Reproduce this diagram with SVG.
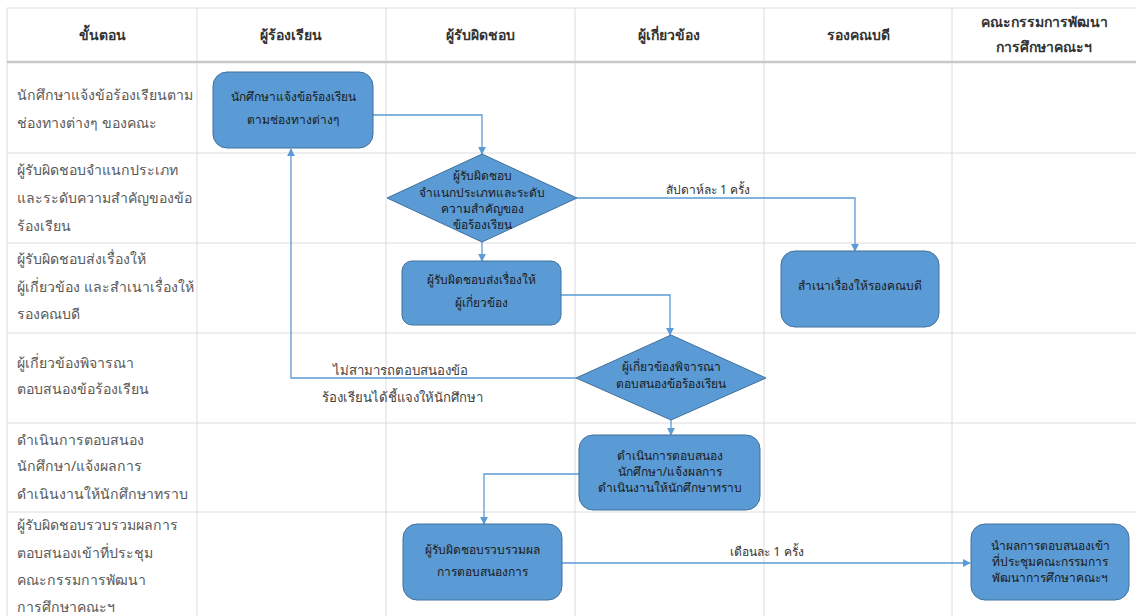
<svg xmlns="http://www.w3.org/2000/svg" width="1136" height="616" viewBox="0 0 1136 616">
<defs>
<marker id="arr" viewBox="0 0 10 10" refX="9" refY="5" markerWidth="8" markerHeight="8" markerUnits="userSpaceOnUse" orient="auto"><path d="M0,0 L10,5 L0,10 z" fill="#5B9BD5"/></marker>
<style>
.grid{stroke:#dcdcdc;stroke-width:1;fill:none}
.hdr{font-family:"Noto Sans","DejaVu Sans",sans-serif;font-size:14px;font-weight:bold;fill:#333;text-anchor:middle}
.step{font-family:"Noto Sans","DejaVu Sans",sans-serif;font-size:14.1px;fill:#595959}
.box{fill:#5B9BD5;stroke:#41719C;stroke-width:1}
.nt{font-family:"Noto Sans","DejaVu Sans",sans-serif;font-size:12px;fill:#1a1a1a;text-anchor:middle}
.con{stroke:#5B9BD5;stroke-width:1.3;fill:none}
.lbl{font-family:"Noto Sans","DejaVu Sans",sans-serif;font-size:12px;fill:#333;text-anchor:middle}
.lbl2{font-family:"Noto Sans","DejaVu Sans",sans-serif;font-size:13.2px;fill:#444;text-anchor:middle}
</style>
</defs>
<rect width="1136" height="616" fill="#fff"/>
<g id="grid">
<path class="grid" d="M7,8 H1136 M7,153 H1136 M7,243 H1136 M7,333 H1136 M7,423 H1136 M7,512 H1136 M7,8 V616 M197,8 V616 M386,8 V616 M575,8 V616 M764,8 V616 M952,8 V616"/>
<path d="M7,62 H1136" stroke="#c8c8c8" stroke-width="2.5" fill="none"/>
</g>
<g id="header">
<text class="hdr" x="102" y="40">ขั้นตอน</text>
<text class="hdr" x="291" y="40">ผู้ร้องเรียน</text>
<text class="hdr" x="480" y="40">ผู้รับผิดชอบ</text>
<text class="hdr" x="669" y="40">ผู้เกี่ยวข้อง</text>
<text class="hdr" x="858" y="40">รองคณบดี</text>
<text class="hdr" x="1044" y="27">คณะกรรมการพัฒนา</text>
<text class="hdr" x="1044" y="52">การศึกษาคณะฯ</text>
</g>
<g id="steps">
<text class="step" x="17" y="100">นักศึกษาแจ้งข้อร้องเรียนตาม</text>
<text class="step" x="17" y="128">ช่องทางต่างๆ ของคณะ</text>
<text class="step" x="17" y="175">ผู้รับผิดชอบจำแนกประเภท</text>
<text class="step" x="17" y="203">และระดับความสำคัญของข้อ</text>
<text class="step" x="17" y="231">ร้องเรียน</text>
<text class="step" x="17" y="264">ผู้รับผิดชอบส่งเรื่องให้</text>
<text class="step" x="17" y="292">ผู้เกี่ยวข้อง และสำเนาเรื่องให้</text>
<text class="step" x="17" y="319">รองคณบดี</text>
<text class="step" x="17" y="368">ผู้เกี่ยวข้องพิจารณา</text>
<text class="step" x="17" y="394">ตอบสนองข้อร้องเรียน</text>
<text class="step" x="17" y="445">ดำเนินการตอบสนอง</text>
<text class="step" x="17" y="471">นักศึกษา/แจ้งผลการ</text>
<text class="step" x="17" y="499">ดำเนินงานให้นักศึกษาทราบ</text>
<text class="step" x="17" y="530">ผู้รับผิดชอบรวบรวมผลการ</text>
<text class="step" x="17" y="558">ตอบสนองเข้าที่ประชุม</text>
<text class="step" x="17" y="585">คณะกรรมการพัฒนา</text>
<text class="step" x="17" y="612">การศึกษาคณะฯ</text>
</g>
<g id="connectors">
<path class="con" d="M373,115 H482 V154" marker-end="url(#arr)"/>
<path class="con" d="M482,242 V261" marker-end="url(#arr)"/>
<path class="con" d="M577,198 H855 V251" marker-end="url(#arr)"/>
<path class="con" d="M561,295 H670 V335" marker-end="url(#arr)"/>
<path class="con" d="M576,378 H291 V149" marker-end="url(#arr)"/>
<path class="con" d="M671,420 V435" marker-end="url(#arr)"/>
<path class="con" d="M579,474 H484 V524" marker-end="url(#arr)"/>
<path class="con" d="M562,563 H970" marker-end="url(#arr)"/>
<text class="lbl" x="708" y="194">สัปดาห์ละ 1 ครั้ง</text>
<text class="lbl2" x="400" y="375">ไม่สามารถตอบสนองข้อ</text>
<text class="lbl2" x="402" y="402">ร้องเรียนได้ชี้แจงให้นักศึกษา</text>
<text class="lbl" x="767" y="556">เดือนละ 1 ครั้ง</text>
</g>
<g id="n1">
<rect class="box" x="213" y="72" width="160" height="76" rx="14"/>
<text class="nt" x="293" y="101">นักศึกษาแจ้งข้อร้องเรียน</text>
<text class="nt" x="293" y="124">ตามช่องทางต่างๆ</text>
</g>
<g id="n2">
<polygon class="box" points="482,154 577,198 482,242 387,198"/>
<text class="nt" x="482" y="180">ผู้รับผิดชอบ</text>
<text class="nt" x="482" y="197">จำแนกประเภทและระดับ</text>
<text class="nt" x="482" y="213">ความสำคัญของ</text>
<text class="nt" x="482" y="229">ข้อร้องเรียน</text>
</g>
<g id="n3">
<rect class="box" x="402" y="261" width="159" height="64" rx="10"/>
<text class="nt" x="481" y="284">ผู้รับผิดชอบส่งเรื่องให้</text>
<text class="nt" x="481" y="307">ผู้เกี่ยวข้อง</text>
</g>
<g id="n4">
<rect class="box" x="781" y="251" width="158" height="76" rx="14"/>
<text class="nt" x="860" y="290">สำเนาเรื่องให้รองคณบดี</text>
</g>
<g id="n5">
<polygon class="box" points="671,335 766,378 671,420 576,378"/>
<text class="nt" x="671" y="371">ผู้เกี่ยวข้องพิจารณา</text>
<text class="nt" x="671" y="388">ตอบสนองข้อร้องเรียน</text>
</g>
<g id="n6">
<rect class="box" x="579" y="435" width="181" height="75" rx="14"/>
<text class="nt" x="670" y="460">ดำเนินการตอบสนอง</text>
<text class="nt" x="670" y="476">นักศึกษา/แจ้งผลการ</text>
<text class="nt" x="670" y="492">ดำเนินงานให้นักศึกษาทราบ</text>
</g>
<g id="n7">
<rect class="box" x="403" y="524" width="159" height="76" rx="14"/>
<text class="nt" x="482" y="554">ผู้รับผิดชอบรวบรวมผล</text>
<text class="nt" x="482" y="576">การตอบสนองการ</text>
</g>
<g id="n8">
<rect class="box" x="971" y="524" width="158" height="76" rx="14"/>
<text class="nt" x="1050" y="550">นำผลการตอบสนองเข้า</text>
<text class="nt" x="1050" y="566">ที่ประชุมคณะกรรมการ</text>
<text class="nt" x="1050" y="582">พัฒนาการศึกษาคณะฯ</text>
</g>
</svg>
